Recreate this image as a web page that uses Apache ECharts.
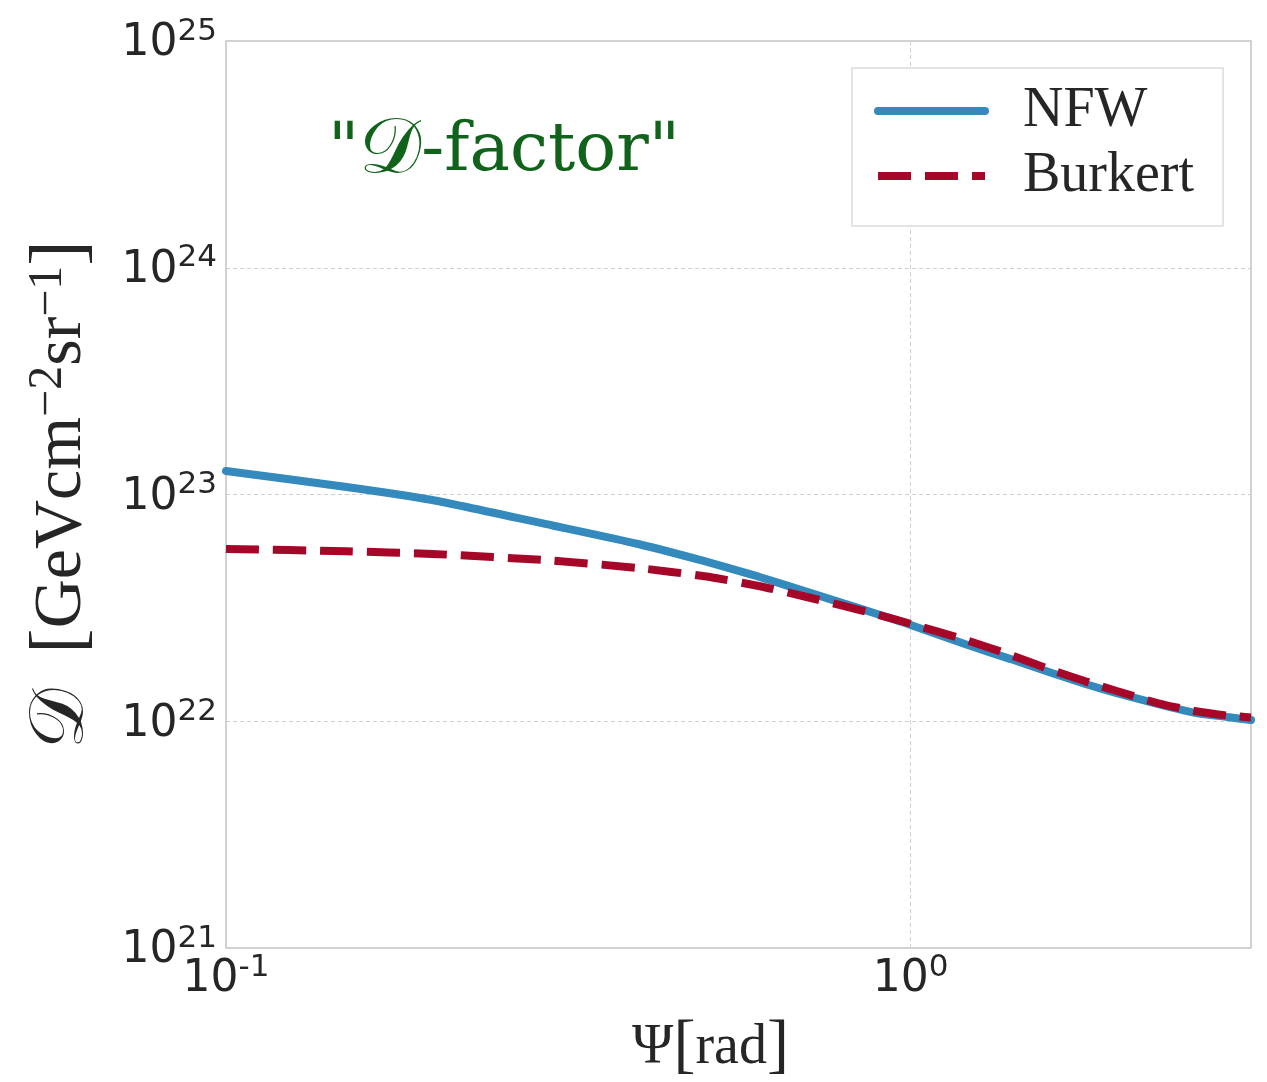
<!DOCTYPE html>
<html>
<head>
<meta charset="utf-8">
<script src="https://cdn.jsdelivr.net/npm/echarts@6/dist/echarts.min.js"></script>
<style>
html,body{margin:0;padding:0;background:#fff;}
#c{width:1267px;height:1082px;}
</style>
</head>
<body>
<div id="c"></div>
<script>
// Data
const psi = [0.1, 0.15, 0.2, 0.3, 0.4, 0.5, 0.6, 0.7, 0.8, 0.9, 1.0, 1.2, 1.4, 1.6, 1.8, 2.0, 2.3, 2.6, 2.9, 3.14159];
const nfw = [1.27e23, 1.08e23, 9.46e22, 7.30e22, 6.05e22, 5.08e22, 4.34e22, 3.75e22, 3.30e22, 2.95e22, 2.66e22, 2.19e22, 1.88e22, 1.64e22, 1.46e22, 1.33e22, 1.19e22, 1.09e22, 1.044e22, 1.013e22];
const burkert = [5.75e22, 5.62e22, 5.47e22, 5.11e22, 4.74e22, 4.36e22, 3.95e22, 3.55e22, 3.22e22, 2.94e22, 2.69e22, 2.29e22, 1.96e22, 1.69e22, 1.50e22, 1.36e22, 1.20e22, 1.11e22, 1.06e22, 1.04e22];
const seriesNames = ['NFW', 'Burkert'];
const titleText = '"{d|𝒟}-factor"';
const xName = 'Ψ{br|[}rad{br|]}';
const yName = '{d|𝒟}  {br|[}GeVcm{s|−2}sr{s|−1}{br|]}';

const tickColor = '#262626';
const serif = "'Liberation Serif', 'DejaVu Serif', serif";
const sans = "'DejaVu Sans', sans-serif";
const scriptFont = "'DejaVu Serif', 'DejaVu Sans', 'Noto Sans', serif";

function sciLabel(v) {
  const e = Math.round(Math.log10(v));
  return '{b|10}{s|' + e + '}';
}
const tickRich = {
  b: {fontFamily: sans, fontSize: 44, lineHeight: 44, color: tickColor, verticalAlign: 'bottom', padding: [6, 0, 6, 0]},
  s: {fontFamily: sans, fontSize: 31, lineHeight: 31, color: tickColor, verticalAlign: 'bottom', padding: [0, 0, 25, 0]}
};

const chart = echarts.init(document.getElementById('c'), null, {renderer: 'canvas'});
chart.setOption({
  animation: false,
  backgroundColor: '#fff',
  title: {
    text: titleText,
    left: 328, top: 113, padding: 0,
    textStyle: {
      fontFamily: "'DejaVu Serif', serif", fontSize: 68, fontWeight: 'normal', color: '#11621a',
      rich: {d: {fontFamily: scriptFont, fontSize: 78, color: '#11621a'}}
    }
  },
  legend: {
    data: seriesNames,
    orient: 'vertical',
    left: 852, top: 68,
    padding: [15, 29, 22, 22],
    itemWidth: 107, itemHeight: 20, itemGap: 9,
    backgroundColor: '#fff',
    borderColor: '#dcdcdc', borderWidth: 1.5, borderRadius: 0,
    itemStyle: {opacity: 0},
    lineStyle: {width: 8},
    textStyle: {fontFamily: serif, fontSize: 56, lineHeight: 50, color: tickColor, padding: [0, 0, 0, 33]}
  },
  grid: {
    left: 226, right: 16, top: 41, bottom: 134,
    outerBoundsMode: 'none', containLabel: false,
    show: true, borderColor: '#c4c4c4', borderWidth: 1.5, backgroundColor: '#fff'
  },
  xAxis: {
    type: 'log', logBase: 10, min: 0.1, max: 3.14159,
    axisLine: {show: false}, axisTick: {show: false},
    splitLine: {show: true, lineStyle: {color: '#cfcfcf', type: [4, 3], width: 1}},
    axisLabel: {formatter: sciLabel, rich: tickRich, margin: 16, showMaxLabel: false},
    name: xName, nameLocation: 'middle', nameGap: 67,
    nameTextStyle: {fontFamily: serif, fontSize: 56, color: tickColor, padding: [0, 56, 0, 0],
      rich: {br: {fontFamily: serif, fontSize: 66, color: tickColor}}}
  },
  yAxis: {
    type: 'log', logBase: 10, min: 1e21, max: 1e25,
    axisLine: {show: false}, axisTick: {show: false},
    splitLine: {show: true, lineStyle: {color: '#cfcfcf', type: [4, 3], width: 1}},
    axisLabel: {formatter: sciLabel, rich: tickRich, margin: 9, padding: [18, 0, 0, 0]},
    name: yName, nameLocation: 'middle', nameRotate: 90, nameGap: 126,
    nameTextStyle: {fontFamily: serif, fontSize: 68, color: tickColor,
      rich: {
        d: {fontFamily: scriptFont, fontSize: 76, color: tickColor},
        br: {fontFamily: serif, fontSize: 76, color: tickColor},
        s: {fontFamily: serif, fontSize: 48, color: tickColor, verticalAlign: 'top'}
      }}
  },
  series: [
    {
      name: seriesNames[0], type: 'line', data: psi.map((x, i) => [x, nfw[i]]),
      showSymbol: false, symbol: 'none', smooth: 0.2,
      lineStyle: {color: '#348ABD', width: 8, cap: 'round'}, itemStyle: {color: '#348ABD'}
    },
    {
      name: seriesNames[1], type: 'line', data: psi.map((x, i) => [x, burkert[i]]),
      showSymbol: false, symbol: 'none', smooth: 0.2,
      lineStyle: {color: '#A60628', width: 8, type: [33, 14], cap: 'butt'}, itemStyle: {color: '#A60628'}
    }
  ]
});
</script>
</body>
</html>
